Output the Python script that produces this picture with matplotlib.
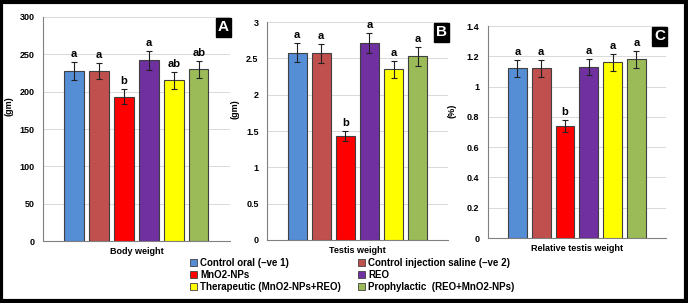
import matplotlib.pyplot as plt
from matplotlib.patches import Rectangle, Patch

groups = ["Control oral (\u2013ve 1)", "Control injection saline (\u2013ve 2)", "MnO2-NPs", "REO",
          "Therapeutic (MnO2-NPs+REO)", "Prophylactic  (REO+MnO2-NPs)"]
colors = ["#558ED5", "#C0504D", "#FF0000", "#7030A0", "#FFFF00", "#9BBB59"]

body_weight = [228, 228, 193, 242, 215, 230]
body_err = [12, 11, 10, 13, 11, 11.5]
body_letters = ["a", "a", "b", "a", "ab", "ab"]

testis_weight = [2.58, 2.57, 1.43, 2.71, 2.35, 2.53]
testis_err = [0.13, 0.13, 0.07, 0.14, 0.12, 0.13]
testis_letters = ["a", "a", "b", "a", "a", "a"]

rel_weight = [1.12, 1.12, 0.74, 1.13, 1.16, 1.18]
rel_err = [0.055, 0.055, 0.04, 0.055, 0.056, 0.058]
rel_letters = ["a", "a", "b", "a", "a", "a"]

plt.rcParams['font.family'] = ['Liberation Sans', 'DejaVu Sans']
plt.rcParams['font.weight'] = 'bold'

fig = plt.figure(figsize=(6.88, 3.03), dpi=100)

# rect, values, errors, letters, (ymin, ymax, step), ylabel, xlabel, tag, letter pad, ylabel x
panels = [
    ([0.0625, 0.2046, 0.2715, 0.7393], body_weight, body_err, body_letters, (0, 300, 50), "(gm)", "Body weight", "A", 4, -0.16),
    ([0.388, 0.208, 0.263, 0.719], testis_weight, testis_err, testis_letters, (0, 3, 0.5), "(gm)", "Testis weight", "B", 0.04, -0.149),
    ([0.709, 0.2145, 0.259, 0.6995], rel_weight, rel_err, rel_letters, (0, 1.4, 0.2), "(%)", "Relative testis weight", "C", 0.02, -0.174),
]

x = range(len(groups))
for rect, vals, errs, letters, (lo, hi, step), ylab, xlab, tag, pad, ylx in panels:
    ax = fig.add_axes(rect)
    ax.bar(x, vals, width=0.79, color=colors, edgecolor="#404040", linewidth=0.8, zorder=3,
           yerr=errs, error_kw=dict(ecolor="#202020", elinewidth=0.8, capsize=2, capthick=0.8, zorder=4))
    for i in x:
        ax.text(i, vals[i] + errs[i] + pad, letters[i], ha="center", va="bottom",
                fontsize=8, fontweight="bold", zorder=5)
    ax.set_xlim(-1.25, 6.25)
    ax.set_ylim(lo, hi)
    ticks = []
    t = lo
    while t <= hi + 1e-9:
        ticks.append(round(t, 2))
        t += step
    ax.set_yticks(ticks)
    ax.set_yticklabels(["%g" % v for v in ticks], fontsize=6.5, fontweight="bold")
    ax.set_xticks([])
    ax.grid(axis="y", color="#d9d9d9", linewidth=0.7, zorder=0)
    for s in ["top", "right"]:
        ax.spines[s].set_visible(False)
    for s in ["left", "bottom"]:
        ax.spines[s].set_color("#808080")
        ax.spines[s].set_linewidth(0.8)
    ax.tick_params(axis="y", length=0, pad=6)
    ax.set_ylabel(ylab, fontsize=6.5, fontweight="bold")
    ax.yaxis.set_label_coords(ylx, 0.6)
    ax.set_xlabel(xlab, fontsize=6.5, fontweight="bold", labelpad=4)
    ax.text(0.995, 0.985, tag, transform=ax.transAxes, ha="right", va="top", color="white",
            fontsize=11, fontweight="bold", zorder=6,
            bbox=dict(boxstyle="square,pad=0.15", facecolor="black", edgecolor="black"))

handles = [Patch(facecolor=c, edgecolor="#404040", linewidth=0.6) for c in colors]
order = [0, 2, 4, 1, 3, 5]
fig.legend([handles[i] for i in order], [groups[i] for i in order], ncol=2,
           loc="center", bbox_to_anchor=(0.512, 0.092), frameon=False,
           prop=dict(size=7, weight="bold"), handlelength=0.7, handleheight=0.7,
           handletextpad=0.3, labelspacing=0.2, columnspacing=1.8, borderpad=0.1)

fig.add_artist(Rectangle((0.002, 0.005), 0.995, 0.99, transform=fig.transFigure,
                         fill=False, edgecolor="black", linewidth=3))

fig.savefig("out.png", dpi=100)
